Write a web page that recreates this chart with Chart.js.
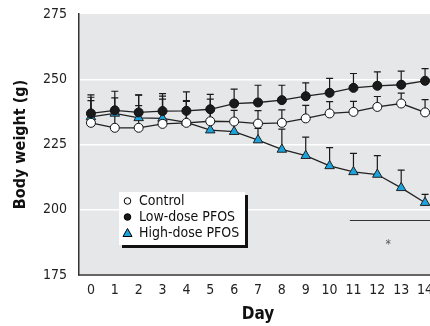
<!DOCTYPE html>
<html>
<head>
<meta charset="utf-8">
<script src="https://cdn.jsdelivr.net/npm/chart.js@4/dist/chart.umd.min.js"></script>
<style>
  html, body { margin: 0; padding: 0; background: #fff; overflow: hidden; width: 430px; height: 326px; }
  #wrap { position: absolute; left: 0; top: 0; width: 445px; height: 326px; }
</style>
</head>
<body>
<div id="wrap"><canvas id="c" width="445" height="326"></canvas></div>
<script>
// ---- data ----
const days = ['0','1','2','3','4','5','6','7','8','9','10','11','12','13','14'];
const controlMean = [233.3, 231.4, 231.4, 232.9, 233.3, 233.9, 233.8, 233.0, 233.3, 235.0, 236.9, 237.5, 239.4, 240.7, 237.3];
const controlErr  = [8.5, 6.0, 8.5, 9.5, 8.5, 4.0, 4.3, 5.0, 5.0, 5.0, 4.5, 4.0, 4.0, 4.0, 4.9];
const lowMean = [236.9, 238.1, 237.3, 237.8, 237.9, 238.5, 240.7, 241.1, 242.0, 243.5, 244.8, 246.7, 247.5, 247.9, 249.4];
const lowErr  = [7.1, 7.3, 6.7, 6.7, 7.3, 5.7, 5.5, 6.6, 5.7, 5.1, 5.5, 5.5, 5.3, 5.2, 4.7];
const highMean = [235.6, 236.9, 235.2, 235.0, 233.5, 230.5, 229.9, 226.7, 223.1, 220.7, 216.8, 214.5, 213.5, 208.4, 202.7];
const highErr  = [7.5, 6.0, 8.7, 8.5, 8.0, 11.9, 5.0, 4.5, 7.8, 7.1, 7.0, 7.1, 7.2, 6.8, 3.2];
const seriesLabels = ['Control', 'Low-dose PFOS', 'High-dose PFOS'];
const yTicks = [175, 200, 225, 250, 275];
const sigSpan = [10.85, 14.5];   // day range of significance bar
const sigLevel = 196;            // g
const sigMark = { day: 12.45, value: 186.5, text: '*' };

const FONT = "'Liberation Sans Narrow', 'DejaVu Sans Condensed', 'Arial Narrow', sans-serif";

const bgPlugin = {
  id: 'plotBg',
  beforeDraw(chart) {
    const { ctx, chartArea: a } = chart;
    ctx.save();
    ctx.fillStyle = '#e6e7e8';
    ctx.fillRect(a.left, a.top, a.right - a.left, a.bottom - a.top);
    ctx.restore();
  }
};

const errPlugin = {
  id: 'errBars',
  beforeDatasetsDraw(chart) {
    const { ctx } = chart;
    const ys = chart.scales.y;
    ctx.save();
    ctx.strokeStyle = '#1a1a1a';
    ctx.lineWidth = 1.2;
    chart.data.datasets.forEach((ds, di) => {
      const meta = chart.getDatasetMeta(di);
      ds.data.forEach((v, i) => {
        const pt = meta.data[i];
        const top = ys.getPixelForValue(v + ds.err[i]);
        ctx.beginPath();
        ctx.moveTo(pt.x, pt.y);
        ctx.lineTo(pt.x, top);
        ctx.moveTo(pt.x - 3.5, top);
        ctx.lineTo(pt.x + 3.5, top);
        ctx.stroke();
      });
    });
    ctx.restore();
  },
  afterDraw(chart) {
    const { ctx } = chart;
    const xs = chart.scales.x, ys = chart.scales.y;
    ctx.save();
    ctx.strokeStyle = '#333';
    ctx.lineWidth = 1;
    const yy = Math.round(ys.getPixelForValue(sigLevel)) + 0.5;
    ctx.beginPath();
    ctx.moveTo(xs.getPixelForValue(sigSpan[0]), yy);
    ctx.lineTo(xs.getPixelForValue(sigSpan[1]), yy);
    ctx.stroke();
    ctx.fillStyle = '#555';
    ctx.font = '12px ' + FONT;
    ctx.textAlign = 'center';
    ctx.textBaseline = 'middle';
    ctx.fillText(sigMark.text, xs.getPixelForValue(sigMark.day), ys.getPixelForValue(sigMark.value));

    // legend box
    const bx = 119, by = 192, bw = 126, bh = 53;
    ctx.fillStyle = '#111';
    ctx.fillRect(bx + 3, by + 3, bw, bh);
    ctx.fillStyle = '#fff';
    ctx.fillRect(bx, by, bw, bh);
    ctx.font = '14px ' + FONT;
    ctx.textAlign = 'left';
    ctx.textBaseline = 'middle';
    const rows = [by + 9, by + 25, by + 41];
    chart.data.datasets.forEach((ds, i) => {
      const cy = rows[i], cx = 127.5;
      ctx.lineWidth = 1;
      ctx.strokeStyle = '#000';
      ctx.fillStyle = ds.pointBackgroundColor;
      ctx.beginPath();
      if (ds.pointStyle === 'triangle') {
        ctx.moveTo(cx, cy - 4.5);
        ctx.lineTo(cx + 4.5, cy + 3.5);
        ctx.lineTo(cx - 4.5, cy + 3.5);
        ctx.closePath();
      } else {
        ctx.arc(cx, cy, 3.3, 0, Math.PI * 2);
      }
      ctx.fill();
      ctx.stroke();
      ctx.fillStyle = '#111';
      ctx.fillText(ds.label, 139, cy + 0.5);
    });
    ctx.restore();
  }
};

new Chart(document.getElementById('c'), {
  type: 'line',
  data: {
    labels: days,
    datasets: [
      { label: seriesLabels[0], data: controlMean, err: controlErr, order: 1,
        pointStyle: 'circle', pointRadius: 4.5, pointBackgroundColor: '#ffffff', pointBorderColor: '#111',
        pointBorderWidth: 1, borderColor: '#222', borderWidth: 1.3 },
      { label: seriesLabels[1], data: lowMean, err: lowErr, order: 2,
        pointStyle: 'circle', pointRadius: 4.5, pointBackgroundColor: '#1a1a1a', pointBorderColor: '#111',
        pointBorderWidth: 1, borderColor: '#222', borderWidth: 1.3 },
      { label: seriesLabels[2], data: highMean, err: highErr, order: 3,
        pointStyle: 'triangle', pointRadius: 5.5, pointBackgroundColor: '#1ba3dd', pointBorderColor: '#222',
        pointBorderWidth: 1, borderColor: '#222', borderWidth: 1.3 }
    ]
  },
  options: {
    responsive: false,
    animation: false,
    devicePixelRatio: 1,
    layout: { padding: { left: 0, top: 14, right: 8, bottom: 0 } },
    plugins: { legend: { display: false }, tooltip: { enabled: false } },
    elements: { line: { tension: 0 } },
    scales: {
      x: {
        type: 'category',
        offset: true,
        grid: { display: false, drawTicks: false },
        border: { display: true, color: '#666', width: 2 },
        ticks: { color: '#222', font: { family: FONT, size: 14 }, padding: 7, autoSkip: false, maxRotation: 0 },
        title: { display: true, text: 'Day', color: '#111', font: { family: FONT, size: 17, weight: 'bold' }, padding: { top: 4, bottom: 1 } },
        afterFit(s) { s.height = 51; s.paddingLeft = 0; s.paddingRight = 0; }
      },
      y: {
        min: 175, max: 275,
        afterBuildTicks(s) { s.ticks = yTicks.map(v => ({ value: v })); },
        grid: {
          drawTicks: false,
          color: (c) => (c.tick && (c.tick.value === 175 || c.tick.value === 275)) ? 'rgba(0,0,0,0)' : '#ffffff',
          lineWidth: 1.5
        },
        border: { display: true, color: '#333', width: 1.5 },
        ticks: { color: '#222', font: { family: FONT, size: 14 }, padding: 12 },
        title: { display: true, text: 'Body weight (g)', color: '#111', font: { family: FONT, size: 16, weight: 'bold' }, padding: { top: 11, bottom: 0 } },
        afterFit(s) { s.width = 79; s.paddingTop = 0; s.paddingBottom = 0; }
      }
    }
  },
  plugins: [bgPlugin, errPlugin]
});
</script>
</body>
</html>
